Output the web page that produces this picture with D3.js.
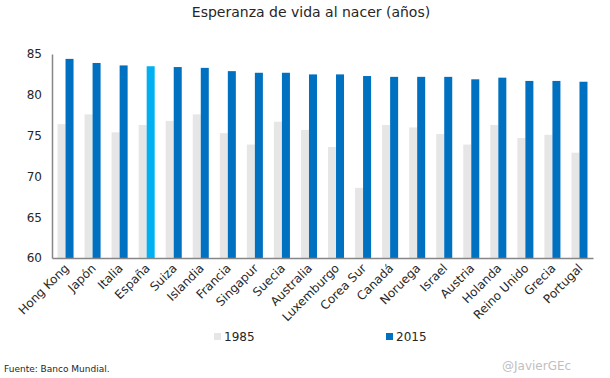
<!DOCTYPE html>
<html>
<head>
<meta charset="utf-8">
<script src="https://cdn.jsdelivr.net/npm/d3@7"></script>
<style>
  body { margin: 0; background: #fff; }
  text { font-family: "Century Gothic", "DejaVu Sans", sans-serif; fill: #262626; }
</style>
</head>
<body>
<svg id="chart" width="610" height="378"></svg>
<script>
var paises = ["Hong Kong", "Japón", "Italia", "España", "Suiza", "Islandia", "Francia", "Singapur", "Suecia", "Australia",
              "Luxemburgo", "Corea Sur", "Canadá", "Noruega", "Israel", "Austria", "Holanda", "Reino Unido", "Grecia", "Portugal"];
var vida1985 = [76.4, 77.6, 75.4, 76.3, 76.8, 77.6, 75.3, 73.9, 76.7, 75.7,
                73.6, 68.6, 76.3, 76.0, 75.2, 73.9, 76.3, 74.7, 75.1, 72.9];
var vida2015 = [84.4, 83.9, 83.6, 83.5, 83.4, 83.3, 82.9, 82.7, 82.7, 82.5,
                82.5, 82.3, 82.2, 82.2, 82.2, 81.9, 82.1, 81.7, 81.7, 81.6];
var yTicks = [60, 65, 70, 75, 80, 85];
var series = ["1985", "2015"];

var svg = d3.select("#chart");
var mLeft = 52, mRight = 593, mTop = 54, mBottom = 258;

var xScale = d3.scaleBand().domain(paises).range([mLeft, mRight]).padding(0);
var yScale = d3.scaleLinear().domain([60, 85]).range([mBottom, mTop]);
var barW = xScale.bandwidth() * 0.296;

// title
svg.append("text")
    .attr("x", 311)
    .attr("y", 17)
    .attr("text-anchor", "middle")
    .style("font-size", "14px")
    .text("Esperanza de vida al nacer (años)");

// bars 1985
svg.selectAll(".bar85")
    .data(paises)
    .enter().append("rect")
    .attr("class", "bar85")
    .attr("x", d => xScale(d) + xScale.bandwidth() / 2 - barW)
    .attr("y", (d, i) => yScale(vida1985[i]))
    .attr("width", barW)
    .attr("height", (d, i) => mBottom - yScale(vida1985[i]))
    .style("fill", "#E6E6E6");

// bars 2015
svg.selectAll(".bar15")
    .data(paises)
    .enter().append("rect")
    .attr("class", "bar15")
    .attr("x", d => xScale(d) + xScale.bandwidth() / 2)
    .attr("y", (d, i) => yScale(vida2015[i]))
    .attr("width", barW)
    .attr("height", (d, i) => mBottom - yScale(vida2015[i]))
    .style("fill", d => d == "España" ? "#00B0F0" : "#0070C0");

// y axis
var yAxis = svg.append("g")
    .attr("transform", `translate(${mLeft},0)`)
    .call(d3.axisLeft(yScale).tickValues(yTicks).tickSize(0).tickPadding(10));
yAxis.select(".domain").style("stroke", "#868686").style("stroke-width", 1.5);
yAxis.selectAll("text")
    .style("font-size", "12px")
    .style("font-family", "\"Century Gothic\", \"DejaVu Sans\", sans-serif")
    .style("fill", "#262626");

// x axis
var xAxis = svg.append("g")
    .attr("transform", `translate(0,${mBottom})`)
    .call(d3.axisBottom(xScale).tickSize(0).tickPadding(0));
xAxis.select(".domain").style("stroke", "#868686").style("stroke-width", 1.5);
xAxis.selectAll("text")
    .attr("text-anchor", "end")
    .attr("dy", "0")
    .attr("transform", "translate(4,11) rotate(-45)")
    .style("font-size", "12px")
    .style("font-family", "\"Century Gothic\", \"DejaVu Sans\", sans-serif")
    .style("fill", "#262626");

// legend
var legendData = [
    { label: series[0], color: "#E6E6E6", x: 214 },
    { label: series[1], color: "#0070C0", x: 386 }
];
var legendItem = svg.selectAll(".legend-item")
    .data(legendData)
    .enter().append("g")
    .attr("class", "legend-item")
    .attr("transform", d => `translate(${d.x}, 333)`);
legendItem.append("rect")
    .attr("width", 7).attr("height", 7)
    .style("fill", d => d.color);
legendItem.append("text")
    .attr("x", 10).attr("y", 8)
    .style("font-size", "12px")
    .text(d => d.label);

// footer
svg.append("text")
    .attr("x", 4).attr("y", 372)
    .style("font-size", "9px")
    .text("Fuente: Banco Mundial.");
svg.append("text")
    .attr("x", 502).attr("y", 370)
    .style("font-size", "12px")
    .style("fill", "#BFBFBF")
    .text("@JavierGEc");
</script>
</body>
</html>
